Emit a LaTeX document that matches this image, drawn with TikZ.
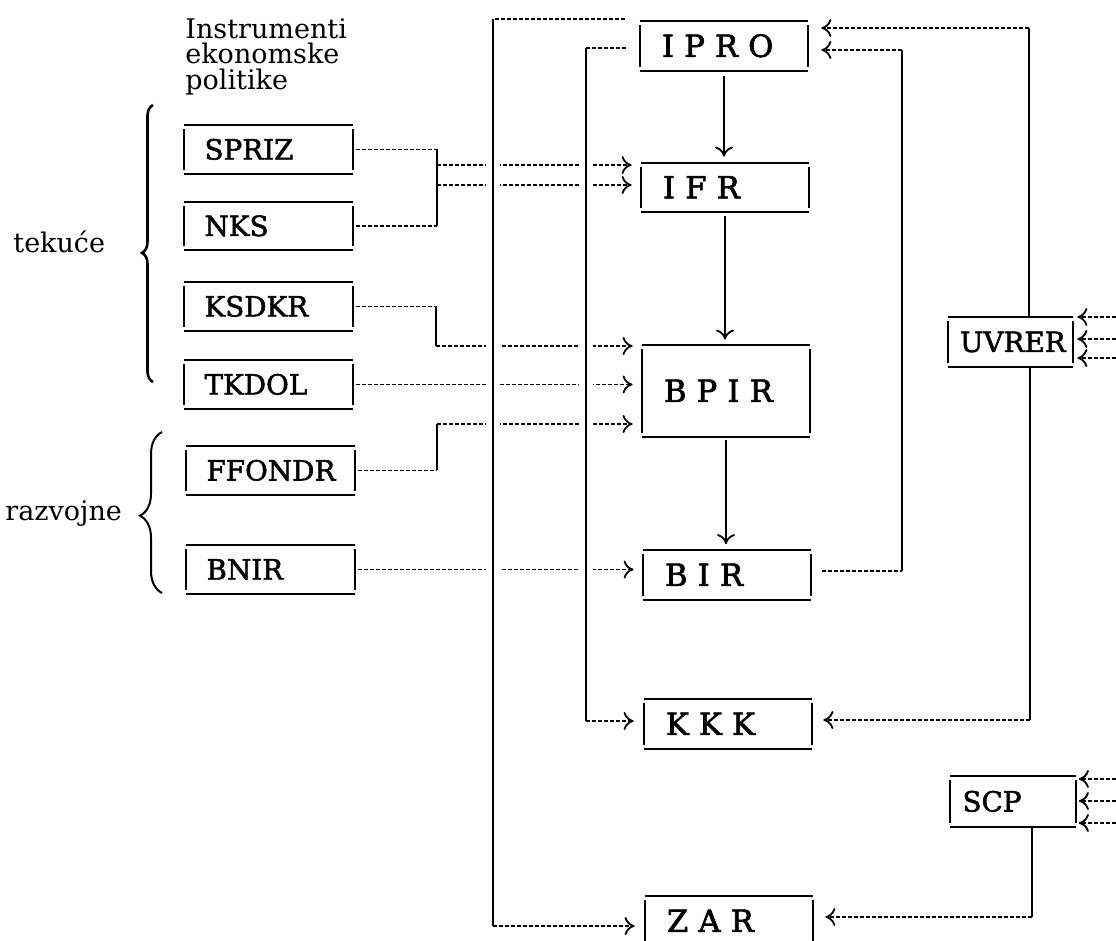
\documentclass[tikz,border=0pt]{standalone}
\usepackage{fontspec}
\setmainfont{DejaVu Serif}
\newfontfamily\spcfont[WordSpace=1.5,FakeBold=2.2]{DejaVu Serif}
\newfontfamily\boxfont[FakeBold=1.8]{DejaVu Serif}
\usetikzlibrary{arrows.meta,decorations.pathreplacing}
\begin{document}
\begin{tikzpicture}[x=0.5pt,y=-0.5pt,
  lbox/.style={inner sep=0pt, inner xsep=10pt, minimum width=84pt, minimum height=24pt,
    text width=64pt, align=left, text height=10pt, text depth=0pt,
    font=\fontsize{13.9}{16}\boxfont},
  cbox/.style={inner sep=0pt, inner xsep=11pt, minimum width=84pt, minimum height=24.5pt,
    text width=62pt, align=left, text height=10.9pt, text depth=0pt,
    font=\fontsize{15.3}{18}\spcfont},
  rbox/.style={inner sep=0pt, inner xsep=6pt, minimum width=62.5pt, minimum height=25pt,
    text width=50.5pt, align=left, text height=10pt, text depth=0pt,
    font=\fontsize{13.9}{16}\boxfont},
  lab/.style={inner sep=0pt, font=\fontsize{13.5}{12.75}\selectfont},
  bl/.style={line width=0.95pt},
  dl/.style={line width=0.85pt, dash pattern=on 2pt off 1pt},
  sl/.style={line width=0.9pt},
  xline/.style={sl, preaction={draw=white, line width=7pt}},
  arr/.style={-{Computer Modern Rightarrow[length=5pt,width=9pt,line width=0.9pt]}},
]
\useasboundingbox (0,0) rectangle (1116,941);
\clip (0,0) rectangle (1116,941);

% ---- labels
\node[lab, anchor=north west, align=left] (instr) at (185,18) {Instrumenti\\ekonomske\\politike};
\node[lab, anchor=base west] (tek) at (13,253) {tekuće};
\node[lab, anchor=base west] (raz) at (5,521) {razvojne};
\draw[line width=1.3pt, decorate, decoration={brace, amplitude=5.5pt, aspect=0.466}] (153,382) -- (153,105);
\draw[line width=1pt, decorate, decoration={brace, amplitude=11pt, aspect=0.48}] (162,593) -- (162,432);

% ---- left boxes
\node[lbox] (spriz)  at (268.5,149.5) {SPRIZ};
\node[lbox] (nks)    at (268.5,226)   {NKS};
\node[lbox] (ksdkr)  at (268.5,306.5) {KSDKR};
\node[lbox] (tkdol)  at (268.5,384.5) {TKDOL};
\node[lbox] (ffondr) at (270.5,470.5) {FFONDR};
\node[lbox] (bnir)   at (270.5,569.5) {BNIR};

% ---- central boxes
\node[cbox] (ipro) at (724,46)    {I P R O};
\node[cbox] (ifr)  at (725,187.5) {I F R};
\node[cbox, minimum height=46pt] (bpir) at (726,391) {B P I R};
\node[cbox] (bir)  at (727,575)   {B I R};
\node[cbox] (kkk)  at (728,724)   {K K K};
\node[cbox] (zar)  at (729,921)   {Z A R};

% ---- right boxes
\node[rbox] (uvrer) at (1010.5,342) {UVRER};
\node[rbox] (scp)   at (1013,801.5) {SCP};

\foreach \n in {spriz,nks,ksdkr,tkdol,ffondr,bnir,ipro,ifr,bpir,bir,kkk,zar,uvrer,scp}{
  \draw[bl] (\n.north west) -- (\n.north east) (\n.south west) -- (\n.south east);
  \draw[bl] ([yshift=-2pt]\n.north west) -- ([yshift=2pt]\n.south west)
            ([yshift=-2pt]\n.north east) -- ([yshift=2pt]\n.south east);
}

% ---- inputs from instruments
\coordinate (ja) at (437,0);
\draw[dl] ([xshift=1.5pt]spriz.east) -- (spriz.east -| ja);
\draw[dl] ([xshift=1.5pt]nks.east) -- (nks.east -| ja);
\draw[sl] (spriz.east -| ja) -- (nks.east -| ja);
\coordinate (j1) at (437,165);
\coordinate (j2) at (437,185);
\draw[dl,arr,shorten >=4.5pt] (j1) -- (j1 -| ifr.west);
\draw[dl,arr,shorten >=4.5pt] (j2) -- (j2 -| ifr.west);

\coordinate (j3) at (436,346);
\draw[dl] ([xshift=1.5pt]ksdkr.east) -- (ksdkr.east -| j3);
\draw[sl] (ksdkr.east -| j3) -- (j3);
\draw[dl,arr,shorten >=4.5pt] (j3) -- (j3 -| bpir.west);

\draw[dl,arr,shorten >=4.5pt] ([xshift=1.5pt]tkdol.east) -- (tkdol.east -| bpir.west);

\coordinate (j5) at (437,424);
\draw[dl] ([xshift=1.5pt]ffondr.east) -- (ffondr.east -| j5);
\draw[sl] (ffondr.east -| j5) -- (j5);
\draw[dl,arr,shorten >=4.5pt] (j5) -- (j5 -| bpir.west);

\draw[dl,arr,shorten >=4.5pt] ([xshift=1.5pt]bnir.east) -- (bnir.east -| bir.west);

% ---- central chain
\draw[sl,arr,shorten <=2.5pt,shorten >=3pt] (ipro.south) -- (ipro.south |- ifr.north);
\draw[sl,arr,shorten <=2pt,shorten >=2.5pt] (ifr.south) -- (ifr.south |- bpir.north);
\draw[sl,arr,shorten <=1.5pt,shorten >=3pt] (bpir.south) -- (bpir.south |- bir.north);

% ---- left feedback lines (IPRO -> ZAR, IPRO -> KKK)
\coordinate (la) at (493,19);
\coordinate (lb) at (493,926);
\coordinate (ma) at (586,48);
\coordinate (mb) at (586,721);
\draw[xline] (la) -- (lb);
\draw[xline] (ma) -- (mb);
\draw[dl, shorten <=7.5pt] (ipro.west |- la) -- (la);
\draw[dl,arr,shorten >=5pt] (lb) -- (lb -| zar.west);
\draw[dl, shorten <=7pt] (ipro.west |- ma) -- (ma);
\draw[dl,arr,shorten >=5pt] (mb) -- (mb -| kkk.west);

% ---- right feedback lines
\coordinate (ra) at (902,50);
\coordinate (rb) at (902,571);
\draw[dl, shorten <=5.5pt] (bir.east |- rb) -- (rb);
\draw[sl] (rb) -- (ra);
\draw[dl,arr,shorten >=6.5pt] (ra) -- (ra -| ipro.east);

\coordinate (ua) at (1029,28);
\draw[sl] (uvrer.north -| ua) -- (ua);
\draw[dl,arr,shorten >=6.5pt] (ua) -- (ua -| ipro.east);

\coordinate (ub) at (1030,720);
\draw[sl] (uvrer.south -| ub) -- (ub);
\draw[dl,arr,shorten >=5.5pt] (ub) -- (ub -| kkk.east);

\coordinate (sa) at (1032,917);
\draw[sl] (scp.south -| sa) -- (sa);
\draw[dl,arr,shorten >=6pt] (sa) -- (sa -| zar.east);

% ---- incoming from the right edge
\coordinate (u1) at (1116,317);
\coordinate (u2) at (1116,339);
\coordinate (u3) at (1116,358);
\coordinate (s1) at (1116,779);
\coordinate (s2) at (1116,801);
\coordinate (s3) at (1116,823);
\foreach \c in {u1,u2,u3}{
  \draw[dl,arr,shorten >=2pt] (\c) -- (\c -| uvrer.east);
}
\foreach \c in {s1,s2,s3}{
  \draw[dl,arr,shorten >=1.5pt] (\c) -- (\c -| scp.east);
}
\end{tikzpicture}
\end{document}
